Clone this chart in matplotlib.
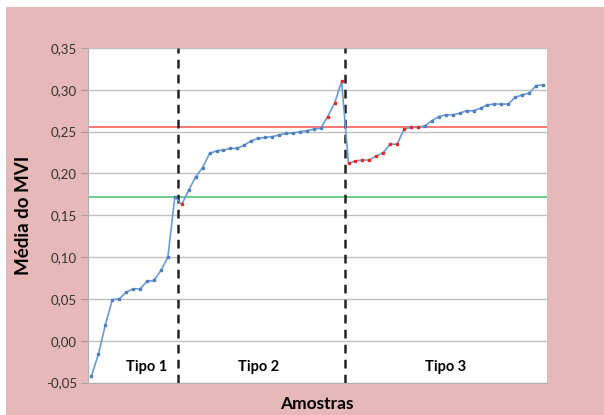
import matplotlib.pyplot as plt
import matplotlib.patches as mpatches
from matplotlib.ticker import FuncFormatter

plt.rcParams['font.family'] = ['Lato', 'DejaVu Sans']

# valores
tipo1 = [-0.042, -0.016, 0.019, 0.049, 0.050, 0.058, 0.062, 0.062, 0.071, 0.072,
         0.084, 0.100, 0.172]
tipo2 = [0.163, 0.180, 0.196, 0.207, 0.224, 0.227, 0.228, 0.230, 0.230, 0.234,
         0.239, 0.242, 0.243, 0.244, 0.246, 0.248, 0.248, 0.250, 0.251, 0.253,
         0.254, 0.268, 0.284, 0.310]
tipo3 = [0.212, 0.215, 0.216, 0.216, 0.221, 0.225, 0.235, 0.235, 0.253, 0.255,
         0.255, 0.257, 0.263, 0.268, 0.270, 0.270, 0.272, 0.275, 0.275, 0.278,
         0.282, 0.283, 0.283, 0.283, 0.291, 0.294, 0.296, 0.305, 0.306]
# amostras marcadas a vermelho (indice a comecar em 1)
vermelhos = [14, 35, 36, 37] + list(range(38, 49))
limite_sup = 0.255
limite_inf = 0.172
yticks = [-0.05, 0.00, 0.05, 0.10, 0.15, 0.20, 0.25, 0.30, 0.35]
grupos = ['Tipo 1', 'Tipo 2', 'Tipo 3']

y = tipo1 + tipo2 + tipo3
x = list(range(1, len(y) + 1))
n1 = len(tipo1)
n2 = n1 + len(tipo2)

fig = plt.figure(figsize=(6.04, 4.15), dpi=100)
fig.patches.append(mpatches.Rectangle((6/604, 0), 1, 1 - 7/415, transform=fig.transFigure,
                                      facecolor='#E6B8B7', edgecolor='none', zorder=-1))
ax = fig.add_axes([88/604, 0.0783, 458.5/604, 0.806])
ax.set_facecolor('white')

ax.set_xlim(0.5, len(y) + 0.5)
ax.set_ylim(-0.05, 0.35)
ax.set_yticks(yticks)
ax.yaxis.set_major_formatter(FuncFormatter(lambda v, p: ('%.2f' % v).replace('.', ',')))
ax.set_xticks([])
ax.grid(axis='y', color='#C0C0C0', lw=1)
ax.set_axisbelow(True)
ax.tick_params(axis='y', length=5, color='#A0A0A0', labelsize=9.5, labelcolor='#333333', pad=3)
for s in ['top', 'right']:
    ax.spines[s].set_visible(False)
for s in ['left', 'bottom']:
    ax.spines[s].set_color('#B0B0B0')

ax.axhline(limite_sup, color='#FF6A6A', lw=1.3)
ax.axhline(limite_inf, color='#5CCB7E', lw=1.3)

ax.plot(x, y, color='#6A9BD8', lw=1.2, zorder=3)
xb = [i for i in x if i not in vermelhos]
ax.plot(xb, [y[i - 1] for i in xb], 's', color='#4F7FC0', ms=2, zorder=4)
ax.plot(vermelhos, [y[i - 1] for i in vermelhos], 's', color='#FF2020', ms=2, zorder=4)

ax.axvline(n1 + 0.5, color='#222222', lw=1.8, ls=(0, (3.5, 2.5)), zorder=2)
ax.axvline(n2 + 0.5, color='#222222', lw=1.8, ls=(0, (3.5, 2.5)), zorder=2)

centros = [(0.5 + n1 + 0.5) / 2 + 2, (n1 + 0.5 + n2 + 0.5) / 2 - 0.5, (n2 + 0.5 + len(y) + 0.5) / 2]
for c, g in zip(centros, grupos):
    ax.text(c, -0.032, g, ha='center', va='center', fontsize=10.5, fontweight='bold')

ax.set_xlabel('Amostras', fontsize=12.5, fontweight='bold', labelpad=10)
ax.set_ylabel('Média do MVI', fontsize=13.5, fontweight='bold', labelpad=10)

fig.savefig('out.png', dpi=100)
